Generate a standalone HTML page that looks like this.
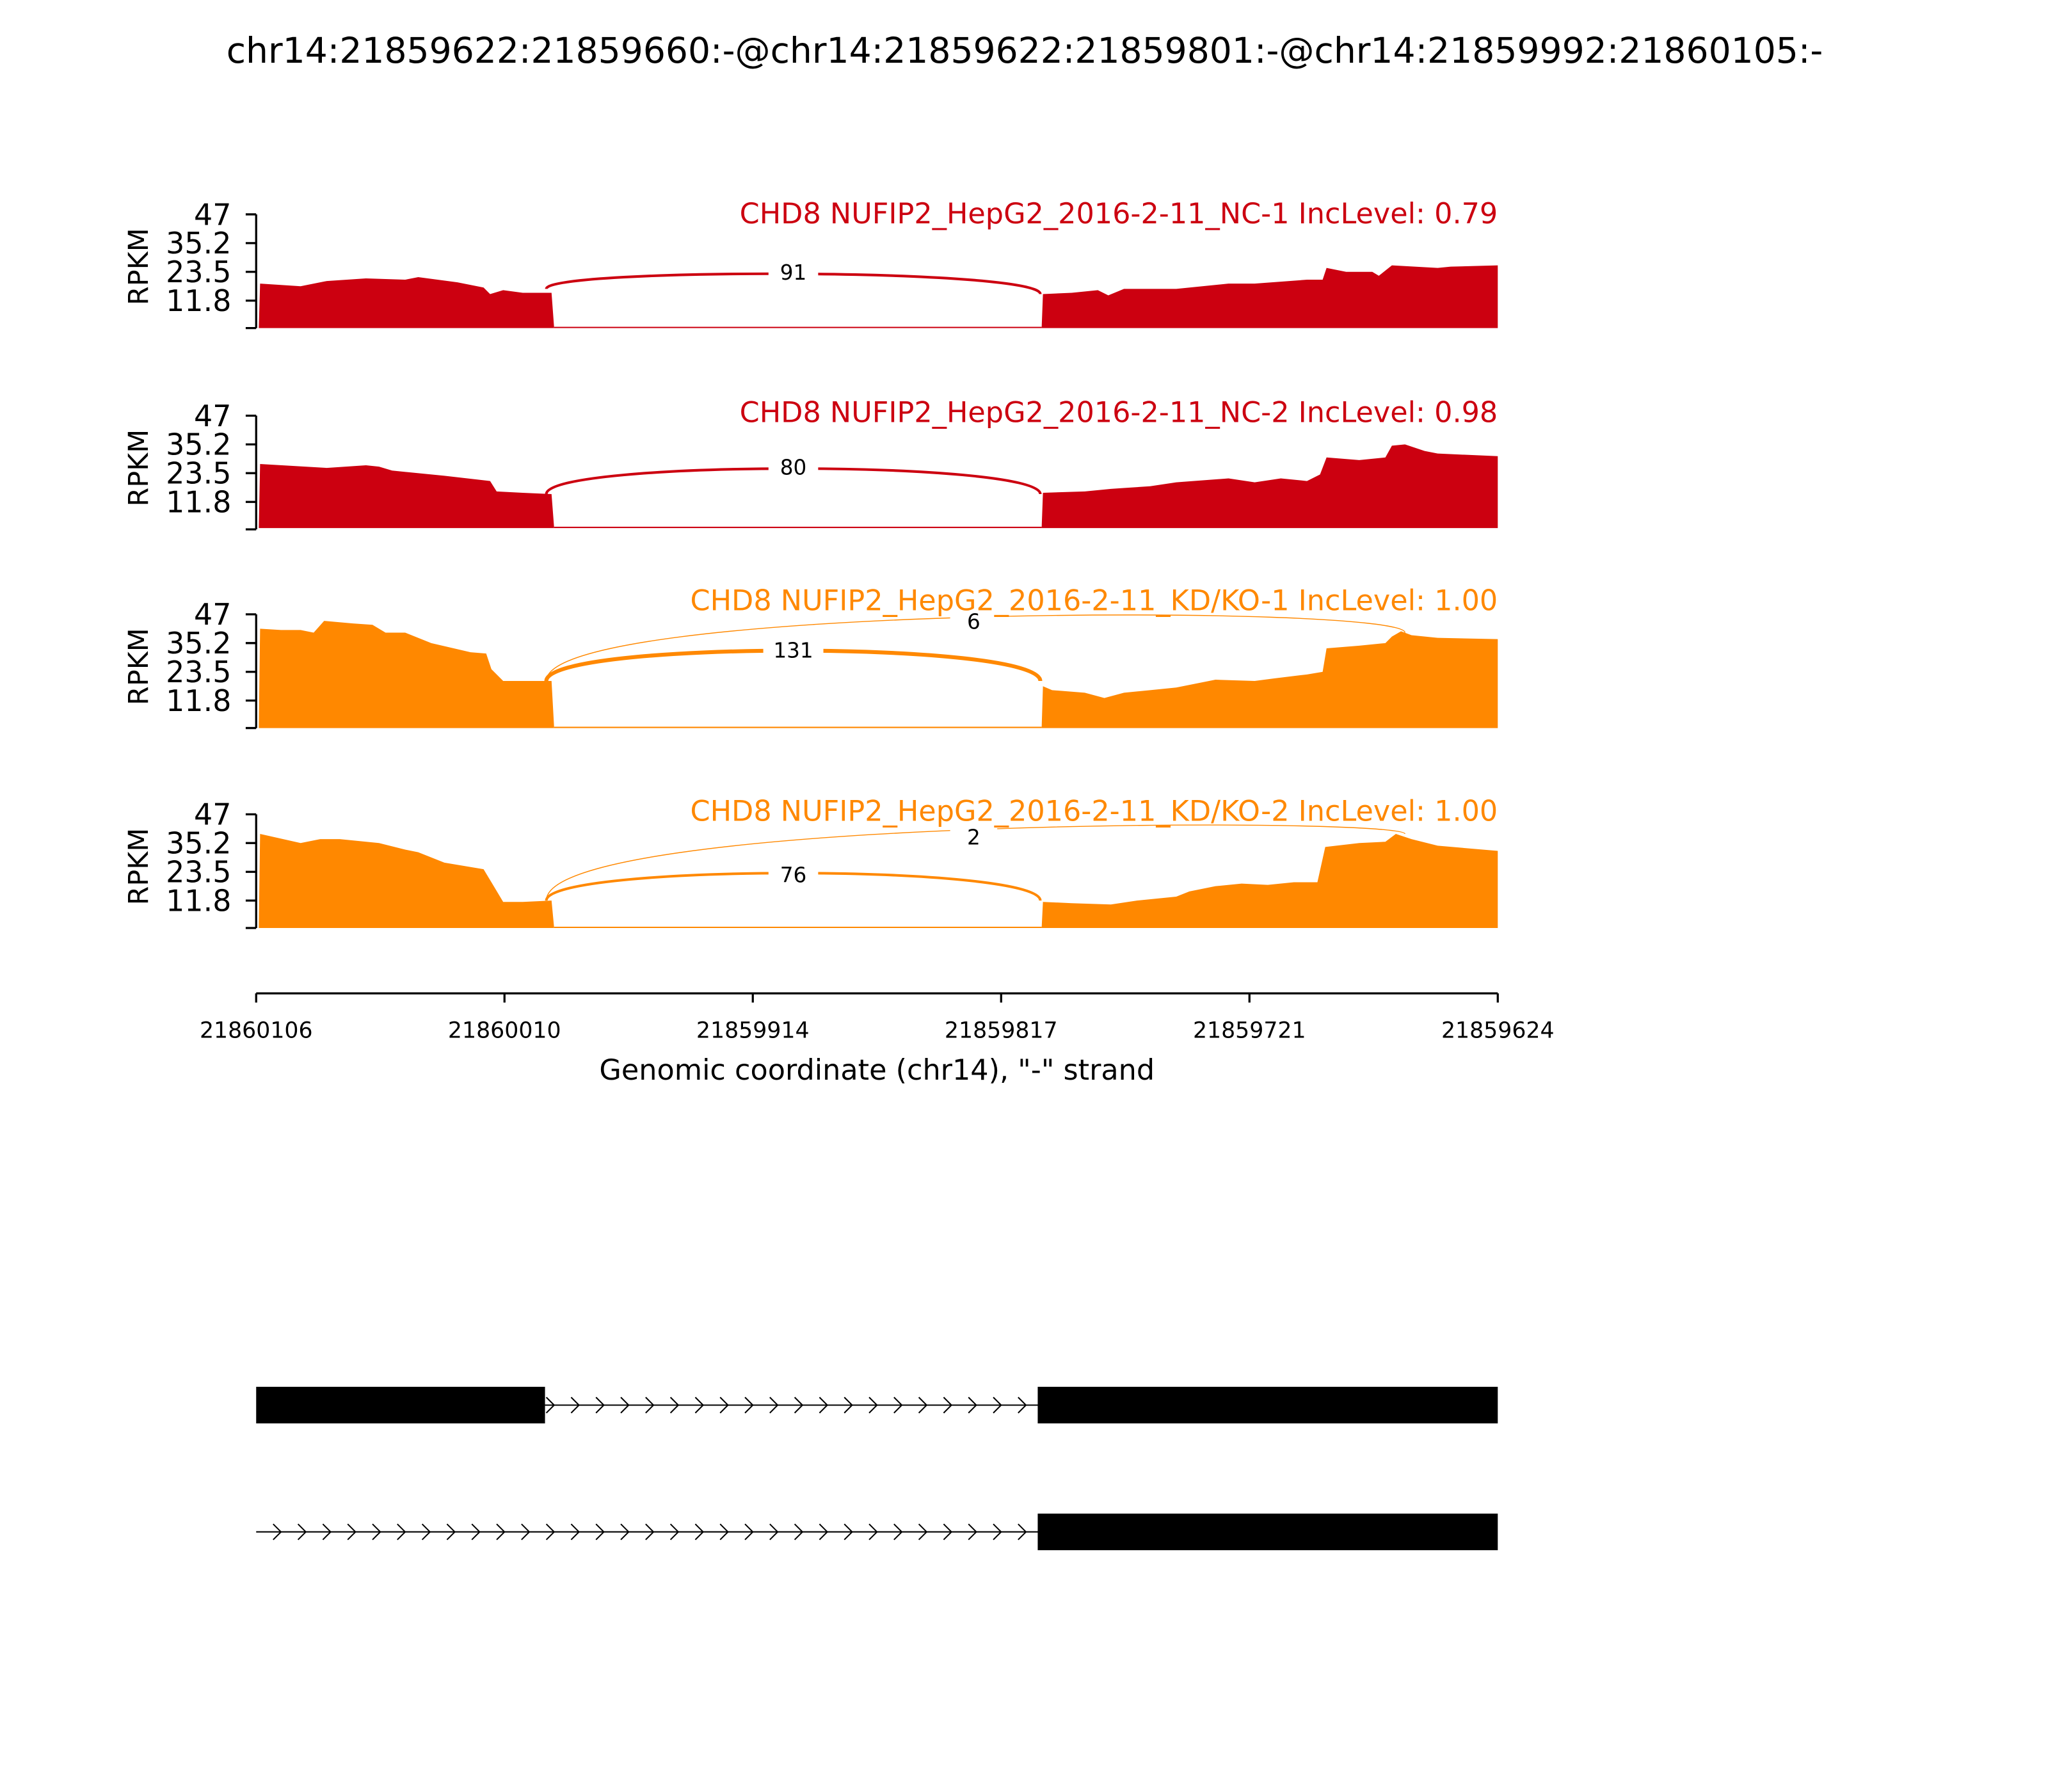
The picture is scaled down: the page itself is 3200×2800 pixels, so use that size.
<!DOCTYPE html>
<html><head><meta charset="utf-8"><style>html,body{margin:0;padding:0;background:#fff}svg{display:block}text{font-family:"DejaVu Sans","Liberation Sans",sans-serif}</style></head><body>
<svg width="3200" height="2800" viewBox="0 0 1567 1371" preserveAspectRatio="none" xmlns="http://www.w3.org/2000/svg">
<rect width="1567" height="1371" fill="#fff"/>
<text x="784" y="48" font-size="27" text-anchor="middle">chr14:21859622:21859660:-@chr14:21859622:21859801:-@chr14:21859992:21860105:-</text>

<g font-size="22.5" text-anchor="end">
<g>
<path d="M196,164V251M188,164H196M188,186H196M188,208H196M188,230H196M188,251H196" stroke="#000" stroke-width="1.6" fill="none"/>
<text x="177" y="172">47</text><text x="177" y="194">35.2</text><text x="177" y="216">23.5</text><text x="177" y="238">11.8</text>
<text transform="translate(113,204) rotate(-90)" text-anchor="middle" font-size="21">RPKM</text>
</g>
<g transform="translate(0,154)">
<path d="M196,164V251M188,164H196M188,186H196M188,208H196M188,230H196M188,251H196" stroke="#000" stroke-width="1.6" fill="none"/>
<text x="177" y="172">47</text><text x="177" y="194">35.2</text><text x="177" y="216">23.5</text><text x="177" y="238">11.8</text>
<text transform="translate(113,204) rotate(-90)" text-anchor="middle" font-size="21">RPKM</text>
</g>
<g transform="translate(0,306)">
<path d="M196,164V251M188,164H196M188,186H196M188,208H196M188,230H196M188,251H196" stroke="#000" stroke-width="1.6" fill="none"/>
<text x="177" y="172">47</text><text x="177" y="194">35.2</text><text x="177" y="216">23.5</text><text x="177" y="238">11.8</text>
<text transform="translate(113,204) rotate(-90)" text-anchor="middle" font-size="21">RPKM</text>
</g>
<g transform="translate(0,459)">
<path d="M196,164V251M188,164H196M188,186H196M188,208H196M188,230H196M188,251H196" stroke="#000" stroke-width="1.6" fill="none"/>
<text x="177" y="172">47</text><text x="177" y="194">35.2</text><text x="177" y="216">23.5</text><text x="177" y="238">11.8</text>
<text transform="translate(113,204) rotate(-90)" text-anchor="middle" font-size="21">RPKM</text>
</g>
</g>

<g fill="#cc0010">
<path d="M198,251L199,217L230,219L250,215L280,213L310,214L320,212L350,216L370,220L375,225L385,222L400,224L422,224L424,251Z"/>
<path d="M797,251L798,225L820,224L840,222L848,226L860,221L900,221L940,217L960,217L1000,214L1012,214L1015,205L1030,208L1050,208L1055,211L1065,203L1100,205L1110,204L1146,203L1146,251Z"/>
</g>
<path d="M424,250.5H797" stroke="#cc0010" stroke-width="1"/>
<path d="M418,221C418,205 796,205 796,225" stroke="#cc0010" stroke-width="2" fill="none"/>
<rect x="588" y="199" width="38" height="19" fill="#fff"/>
<text x="607" y="214" font-size="16" text-anchor="middle">91</text>
<text x="1146" y="171" font-size="21.8" text-anchor="end" fill="#cc0010">CHD8 NUFIP2_HepG2_2016-2-11_NC-1 IncLevel: 0.79</text>

<g fill="#cc0010">
<path d="M198,404L199,355L250,358L280,356L290,357L300,360L340,364L375,368L380,376L400,377L422,378L424,404Z"/>
<path d="M797,404L798,377L830,376L850,374L880,372L900,369L940,366L960,369L980,366L1000,368L1010,363L1015,350L1040,352L1060,350L1065,341L1075,340L1090,345L1100,347L1146,349L1146,404Z"/>
</g>
<path d="M424,403.5H797" stroke="#cc0010" stroke-width="1"/>
<path d="M418,378C418,352 796,352 796,378" stroke="#cc0010" stroke-width="2" fill="none"/>
<rect x="588" y="348" width="38" height="19" fill="#fff"/>
<text x="607" y="363" font-size="16" text-anchor="middle">80</text>
<text x="1146" y="323" font-size="21.8" text-anchor="end" fill="#cc0010">CHD8 NUFIP2_HepG2_2016-2-11_NC-2 IncLevel: 0.98</text>

<g fill="#ff8800">
<path d="M198,557L199,481L215,482L230,482L240,484L248,475L270,477L285,478L295,484L310,484L330,492L360,499L372,500L376,512L385,521L400,521L422,521L424,557Z"/>
<path d="M797,557L798,525L805,528L830,530L845,534L860,530L880,528L900,526L930,520L960,521L975,519L1000,516L1012,514L1015,496L1040,494L1060,492L1065,487L1072,483L1080,486L1100,488L1146,489L1146,557Z"/>
</g>
<path d="M424,556.5H797" stroke="#ff8800" stroke-width="1"/>
<path d="M418,521C418,462 1075,462 1075,484" stroke="#ff8800" stroke-width="0.7" fill="none"/>
<path d="M418,521C418,490 796,490 796,521" stroke="#ff8800" stroke-width="3" fill="none"/>
<rect x="727" y="467" width="36" height="18" fill="#fff"/>
<text x="745" y="481" font-size="16" text-anchor="middle">6</text>
<rect x="584" y="488" width="46" height="19" fill="#fff"/>
<text x="607" y="503" font-size="16" text-anchor="middle">131</text>
<text x="1146" y="467" font-size="21.8" text-anchor="end" fill="#ff8800">CHD8 NUFIP2_HepG2_2016-2-11_KD/KO-1 IncLevel: 1.00</text>

<g fill="#ff8800">
<path d="M198,710L199,638L230,645L245,642L260,642L290,645L310,650L320,652L340,660L370,665L376,675L385,690L400,690L422,689L424,710Z"/>
<path d="M797,710L798,690L820,691L850,692L870,689L900,686L910,682L930,678L950,676L970,677L990,675L1008,675L1014,648L1040,645L1060,644L1068,638L1080,642L1100,647L1146,651L1146,710Z"/>
</g>
<path d="M424,709.5H797" stroke="#ff8800" stroke-width="1"/>
<path d="M418,689C418,625 1075,625 1075,638" stroke="#ff8800" stroke-width="0.7" fill="none"/>
<path d="M418,689C418,661 796,661 796,689" stroke="#ff8800" stroke-width="2" fill="none"/>
<rect x="727" y="632" width="36" height="18" fill="#fff"/>
<text x="745" y="646" font-size="16" text-anchor="middle">2</text>
<rect x="588" y="660" width="38" height="19" fill="#fff"/>
<text x="607" y="675" font-size="16" text-anchor="middle">76</text>
<text x="1146" y="628" font-size="21.8" text-anchor="end" fill="#ff8800">CHD8 NUFIP2_HepG2_2016-2-11_KD/KO-2 IncLevel: 1.00</text>

<path d="M196,760H1146M196,760V767M386,760V767M576,760V767M766,760V767M956,760V767M1146,760V767" stroke="#000" stroke-width="1.6" fill="none"/>
<g font-size="17" text-anchor="middle">
<text x="196" y="794">21860106</text><text x="386" y="794">21860010</text><text x="576" y="794">21859914</text>
<text x="766" y="794">21859817</text><text x="956" y="794">21859721</text><text x="1146" y="794">21859624</text>
</g>
<text x="671" y="826" font-size="21.8" text-anchor="middle">Genomic coordinate (chr14), "-" strand</text>

<rect x="196" y="1061" width="221" height="28" fill="#000"/>
<rect x="794" y="1061" width="352" height="28" fill="#000"/>
<path d="M417,1075H796" stroke="#000" stroke-width="1"/>
<path d="M418,1069l6,6l-6,6M437,1069l6,6l-6,6M456,1069l6,6l-6,6M475,1069l6,6l-6,6M494,1069l6,6l-6,6M513,1069l6,6l-6,6M532,1069l6,6l-6,6M551,1069l6,6l-6,6M570,1069l6,6l-6,6M589,1069l6,6l-6,6M608,1069l6,6l-6,6M627,1069l6,6l-6,6M646,1069l6,6l-6,6M665,1069l6,6l-6,6M684,1069l6,6l-6,6M703,1069l6,6l-6,6M722,1069l6,6l-6,6M741,1069l6,6l-6,6M760,1069l6,6l-6,6M779,1069l6,6l-6,6" stroke="#000" stroke-width="1" fill="none"/>
<rect x="794" y="1158" width="352" height="28" fill="#000"/>
<path d="M196,1172H796" stroke="#000" stroke-width="1"/>
<path d="M209,1166l6,6l-6,6M228,1166l6,6l-6,6M247,1166l6,6l-6,6M266,1166l6,6l-6,6M285,1166l6,6l-6,6M304,1166l6,6l-6,6M323,1166l6,6l-6,6M342,1166l6,6l-6,6M361,1166l6,6l-6,6M380,1166l6,6l-6,6M399,1166l6,6l-6,6M418,1166l6,6l-6,6M437,1166l6,6l-6,6M456,1166l6,6l-6,6M475,1166l6,6l-6,6M494,1166l6,6l-6,6M513,1166l6,6l-6,6M532,1166l6,6l-6,6M551,1166l6,6l-6,6M570,1166l6,6l-6,6M589,1166l6,6l-6,6M608,1166l6,6l-6,6M627,1166l6,6l-6,6M646,1166l6,6l-6,6M665,1166l6,6l-6,6M684,1166l6,6l-6,6M703,1166l6,6l-6,6M722,1166l6,6l-6,6M741,1166l6,6l-6,6M760,1166l6,6l-6,6M779,1166l6,6l-6,6" stroke="#000" stroke-width="1" fill="none"/>
</svg>
</body></html>
